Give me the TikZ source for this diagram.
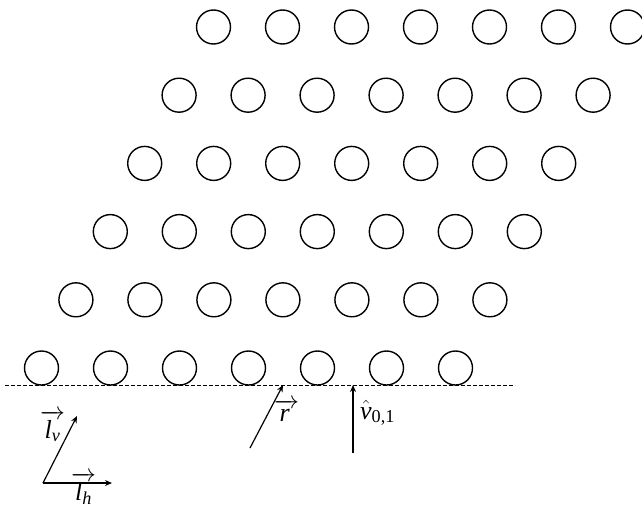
\documentclass[tikz,border=0pt]{standalone}
\usepackage{amsmath}
\usepackage{fontspec}
\setmainfont{Liberation Serif}
\usepackage{tikz}
\usetikzlibrary{arrows.meta,positioning}
\tikzset{
  atom/.style={draw,circle,minimum size=34pt,inner sep=0pt,line width=1.4pt},
  lbl/.style={inner sep=0pt,font=\fontsize{26}{30}\selectfont},
  arr/.style={-{Stealth[length=7pt,width=6pt]},line width=1.2pt},
  base/.style={dash pattern=on 3.5pt off 2.5pt,line width=1pt},
}
\begin{document}
\begin{tikzpicture}[x=1pt,y=-1pt]
\useasboundingbox (0,0) rectangle (642,514);
\foreach \k in {0,...,5} {\foreach \i in {0,...,6} {\node[atom] (a-\k-\i) at ({41.5+34.4*\k+69*\i},{368-68.2*\k}) {};}}
\coordinate (bl) at (5,385); \coordinate (br) at (515,385);
\draw[base] (bl)--(br);
\coordinate (o) at (43,483); \coordinate (lv) at (77,416); \coordinate (lh) at (112,483);
\coordinate (r0) at (250,448); \coordinate (r1) at (283,385);
\coordinate (v0) at (353,453); \coordinate (v1) at (353,385);
\draw[arr] (o)--(lv); \draw[arr] (o)--(lh);
\draw[arr] (r0)--(r1); \draw[arr] (v0)--(v1);
\node[lbl,anchor=base west] (tlv) at (40,438) {$\overrightarrow{\textit{l}_{\textit{v}}}$};
\node[lbl,anchor=base west] (tlh) at (71,500) {$\overrightarrow{\textit{l}_{\textit{h}}}$};
\node[lbl,anchor=base west] (tr) at (274,421) {$\overrightarrow{\textit{r}\,}$};
\node[lbl,anchor=base west] (tv) at (360,419) {$\hat{\textit{v}}_{\text{0,1}}$};
\end{tikzpicture}
\end{document}
